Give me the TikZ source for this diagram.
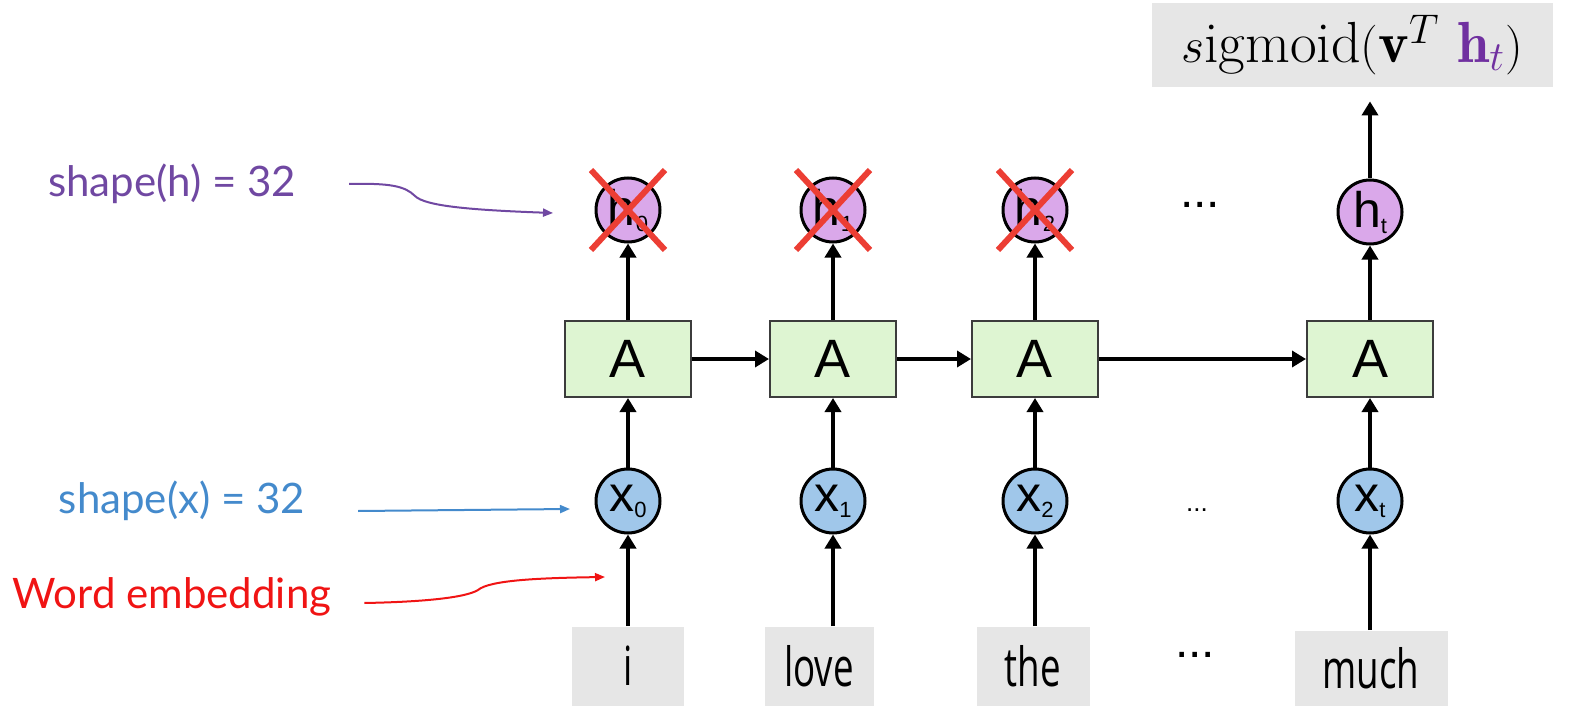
\documentclass[tikz,border=0pt]{standalone}
\usepackage{fontspec}
\usepackage{amsmath}
\usetikzlibrary{arrows.meta,positioning}
\newfontfamily\notefont{Lato}
\newfontfamily\cellfont{Liberation Sans}
\newfontfamily\wordfont[FakeStretch=0.68]{Open Sans}
\definecolor{hlilac}{RGB}{218,168,234}
\definecolor{xblue}{RGB}{160,199,234}
\definecolor{agreen}{RGB}{222,245,210}
\definecolor{boxgray}{RGB}{60,60,60}
\definecolor{wordgray}{RGB}{230,230,230}
\definecolor{notepurple}{RGB}{112,72,162}
\definecolor{noteblue}{RGB}{68,138,204}
\definecolor{notered}{RGB}{240,20,20}
\definecolor{crossred}{RGB}{236,62,52}
\definecolor{outpurple}{RGB}{112,48,160}
\tikzset{
  hcell/.style={circle,draw=black,line width=1.5pt,fill=hlilac,
    minimum size=32pt,inner sep=0pt,font=\cellfont\fontsize{25}{25}\selectfont},
  xcell/.style={hcell,fill=xblue},
  abox/.style={draw=boxgray,line width=1pt,fill=agreen,
    minimum width=63pt,minimum height=38pt,inner sep=0pt,
    font=\cellfont\fontsize{27}{27}\selectfont},
  wordbox/.style={fill=wordgray,minimum height=39.5pt,inner sep=0pt,
    font=\wordfont\fontsize{27}{27}\selectfont},
  outbox/.style={fill=wordgray,minimum width=200.5pt,minimum height=42pt,
    inner sep=0pt,font=\fontsize{29}{29}\selectfont},
  flow/.style={-{Triangle[length=7pt,width=8pt]},line width=2pt},
  noteflow/.style={-{Triangle[length=5pt,width=4pt]},line width=1pt},
  note/.style={font=\notefont\fontsize{21}{21}\selectfont},
  cross/.style={draw=crossred,line width=3pt},
  dotsmark/.style={font=\cellfont\fontsize{24}{24}\selectfont}
}
\newcommand{\cellsub}[1]{\raisebox{-3pt}{\fontsize{11}{11}\selectfont#1}}

\begin{document}
\begin{tikzpicture}[x=0.5pt,y=-0.5pt]
  \useasboundingbox (0,0) rectangle (1581,706);
  % words
  \node[wordbox,minimum width=56pt] (w0) at (628,666) {i};
  \node[wordbox,minimum width=54.5pt] (w1) at (819,666) {love};
  \node[wordbox,minimum width=56.5pt] (w2) at (1033,666) {the};
  \node[wordbox,minimum width=76.5pt,minimum height=37.5pt] (w3) at (1371,668) {much};
  \node[dotsmark] (dotsw) at (1195,655) {...};
  % inputs
  \node[xcell] (x0) at (628,501) {x\cellsub{0}};
  \node[xcell] (x1) at (833,501) {x\cellsub{1}};
  \node[xcell] (x2) at (1035,501) {x\cellsub{2}};
  \node[xcell] (x3) at (1370,501) {x\cellsub{t}};
  \node[dotsmark,font=\cellfont\fontsize{13}{13}\selectfont] (dotsx) at (1197,510) {...};
  % cells
  \node[abox] (a0) at (628,359) {A};
  \node[abox] (a1) at (833,359) {A};
  \node[abox] (a2) at (1035,359) {A};
  \node[abox] (a3) at (1370,359) {A};
  % hidden states
  \node[hcell] (h0) at (628,210) {h\cellsub{0}};
  \node[hcell] (h1) at (833,210) {h\cellsub{1}};
  \node[hcell] (h2) at (1035,210) {h\cellsub{2}};
  \node[hcell] (h3) at (1370,212) {h\cellsub{t}};
  \node[dotsmark] (dotsh) at (1200,205) {...};
  % output
  \node[outbox] (out) at (1352,45)
    {$s\mathrm{igmoid}(\mathbf{v}^T\ \textcolor{outpurple}{\mathbf{h}_t})$};

  \foreach \i in {0,1,2,3}{
    \draw[flow] (x\i |- w\i.north) -- (x\i);
    \draw[flow] (x\i) -- (a\i);
    \draw[flow] (a\i) -- (h\i);
  }
  \draw[flow] (a0) -- (a1);
  \draw[flow] (a1) -- (a2);
  \draw[flow] (a2) -- (a3);
  \draw[flow,shorten >=7pt] (h3) -- (h3 |- out.south);

  % dropped states
  \foreach \i in {0,1,2}
    \draw[cross] ([shift={(-37,-40)}]h\i.center) -- ([shift={(37,40)}]h\i.center)
      ([shift={(37,-40)}]h\i.center) -- ([shift={(-37,40)}]h\i.center);

  % notes
  \node[note,text=notepurple] (hnote) at (172,184) {shape(h) = 32};
  \node[note,text=noteblue] (xnote) at (182,501) {shape(x) = 32};
  \node[note,text=notered] (wnote) at (172,597) {Word embedding};
  \coordinate (hpoint) at (553,213);
  \coordinate (xpoint) at (570,509);
  \coordinate (wpoint) at (605,577);
  \draw[noteflow,draw=notepurple] ([xshift=23pt]hnote.east)
    .. controls (390,183) and (405,186) .. (415,196)
    .. controls (425,206) and (470,210) .. (hpoint);
  \draw[noteflow,draw=noteblue] ([xshift=23pt,yshift=-5pt]xnote.east) -- (xpoint);
  \draw[noteflow,draw=notered] ([xshift=13pt,yshift=-3pt]wnote.east)
    .. controls (420,602) and (465,598) .. (478,590)
    .. controls (490,580) and (540,578) .. (wpoint);
\end{tikzpicture}
\end{document}
